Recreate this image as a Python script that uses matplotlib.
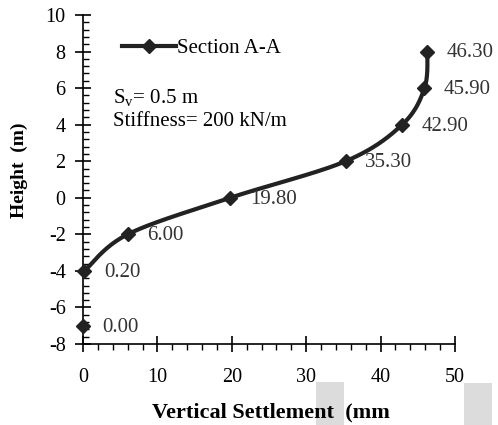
import numpy as np
import matplotlib
matplotlib.use("Agg")
import matplotlib.pyplot as plt
from matplotlib.ticker import MultipleLocator
from matplotlib.patches import Rectangle

# Data
settlement = [0.0, 0.2, 6.0, 19.8, 35.3, 42.9, 45.9, 46.3]
height = [-7, -4, -2, 0, 2, 4, 6, 8]
labels = ["0.00", "0.20", "6.00", "19.80", "35.30", "42.90", "45.90", "46.30"]
series_name = "Section A-A"

plt.rcParams['font.family'] = ['Liberation Serif', 'DejaVu Serif']
plt.rcParams['axes.unicode_minus'] = False
plt.rcParams['mathtext.fontset'] = 'custom'
plt.rcParams['mathtext.rm'] = 'Liberation Serif'

def catmull_rom(xs, ys, n=40):
    pts = np.column_stack([xs, ys]).astype(float)
    p = np.vstack([pts[0], pts, pts[-1]])
    out = []
    for i in range(1, len(p) - 2):
        p0, p1, p2, p3 = p[i - 1], p[i], p[i + 1], p[i + 2]
        t = np.linspace(0, 1, n)[:, None]
        seg = 0.5 * ((2 * p1) + (-p0 + p2) * t + (2 * p0 - 5 * p1 + 4 * p2 - p3) * t ** 2
                     + (-p0 + 3 * p1 - 3 * p2 + p3) * t ** 3)
        out.append(seg)
    out = np.vstack(out)
    return out[:, 0], out[:, 1]

W, H = 498, 425
fig = plt.figure(figsize=(W / 100, H / 100), dpi=100)
ax = fig.add_axes([83 / W, 1 - 344 / H, 372 / W, 329 / H])

col = '#222222'
cx, cy = catmull_rom(settlement[1:], height[1:])
ax.plot(cx, cy, color=col, lw=3, zorder=2, solid_capstyle='round')
ax.plot(settlement, height, linestyle='none', marker='D', ms=7.5, color=col, zorder=3,
        clip_on=False)
# legend proxy
ax.plot([], [], color=col, lw=3, marker='D', ms=7, label=series_name)

for x, y, t in zip(settlement, height, labels):
    ax.annotate(t, (x, y), xytext=(14, -1), textcoords='offset points',
                ha='left', va='center', fontsize=15, color='#333333')

ax.set_xlim(0, 50)
ax.set_ylim(-8, 10)
ax.xaxis.set_major_locator(MultipleLocator(10))
ax.xaxis.set_minor_locator(MultipleLocator(2))
ax.yaxis.set_major_locator(MultipleLocator(2))
ax.yaxis.set_minor_locator(MultipleLocator(0.4))
for s in ['top', 'right']:
    ax.spines[s].set_visible(False)
for s in ['left', 'bottom']:
    ax.spines[s].set_linewidth(1.2)
ax.tick_params(axis='both', which='major', direction='inout', length=11, width=1.2,
               labelsize=14.5, colors='black')
ax.tick_params(axis='x', which='major', pad=12)
ax.tick_params(axis='y', which='major', pad=7)
ax.tick_params(axis='x', which='minor', direction='out', length=4, width=1.0)
ax.tick_params(axis='y', which='minor', direction='in', length=4, width=1.0)

# axis titles
fig.text(271 / W, 1 - 417 / H, "Vertical Settlement  (mm", fontsize=16, fontweight='bold',
         ha='center', va='baseline')
fig.text(19 / W, 1 - 170 / H, "Height  (m)", fontsize=14, fontweight='bold',
         ha='center', va='center', rotation=90)

leg = ax.legend(loc='center left', bbox_to_anchor=(0.105, 1 - (48 - 15) / 329),
                frameon=False, fontsize=15, handlelength=2.6, handletextpad=0.05,
                borderaxespad=0, borderpad=0)

fig.text(113 / W, 1 - 98 / H, r"S$_\mathregular{v}$= 0.5 m", fontsize=15,
         va='center', ha='left')
fig.text(113 / W, 1 - 122 / H, "Stiffness= 200 kN/m", fontsize=15,
         va='center', ha='left')

# grey blocks at bottom (behind text)
fig.patches.append(Rectangle((316 / W, 0), 28 / W, 43 / H, transform=fig.transFigure,
                             facecolor='#dcdcdc', edgecolor='none', zorder=-1))
fig.patches.append(Rectangle((464 / W, 0), 28 / W, 42 / H, transform=fig.transFigure,
                             facecolor='#dcdcdc', edgecolor='none', zorder=-1))

fig.savefig("out.png", dpi=100)
